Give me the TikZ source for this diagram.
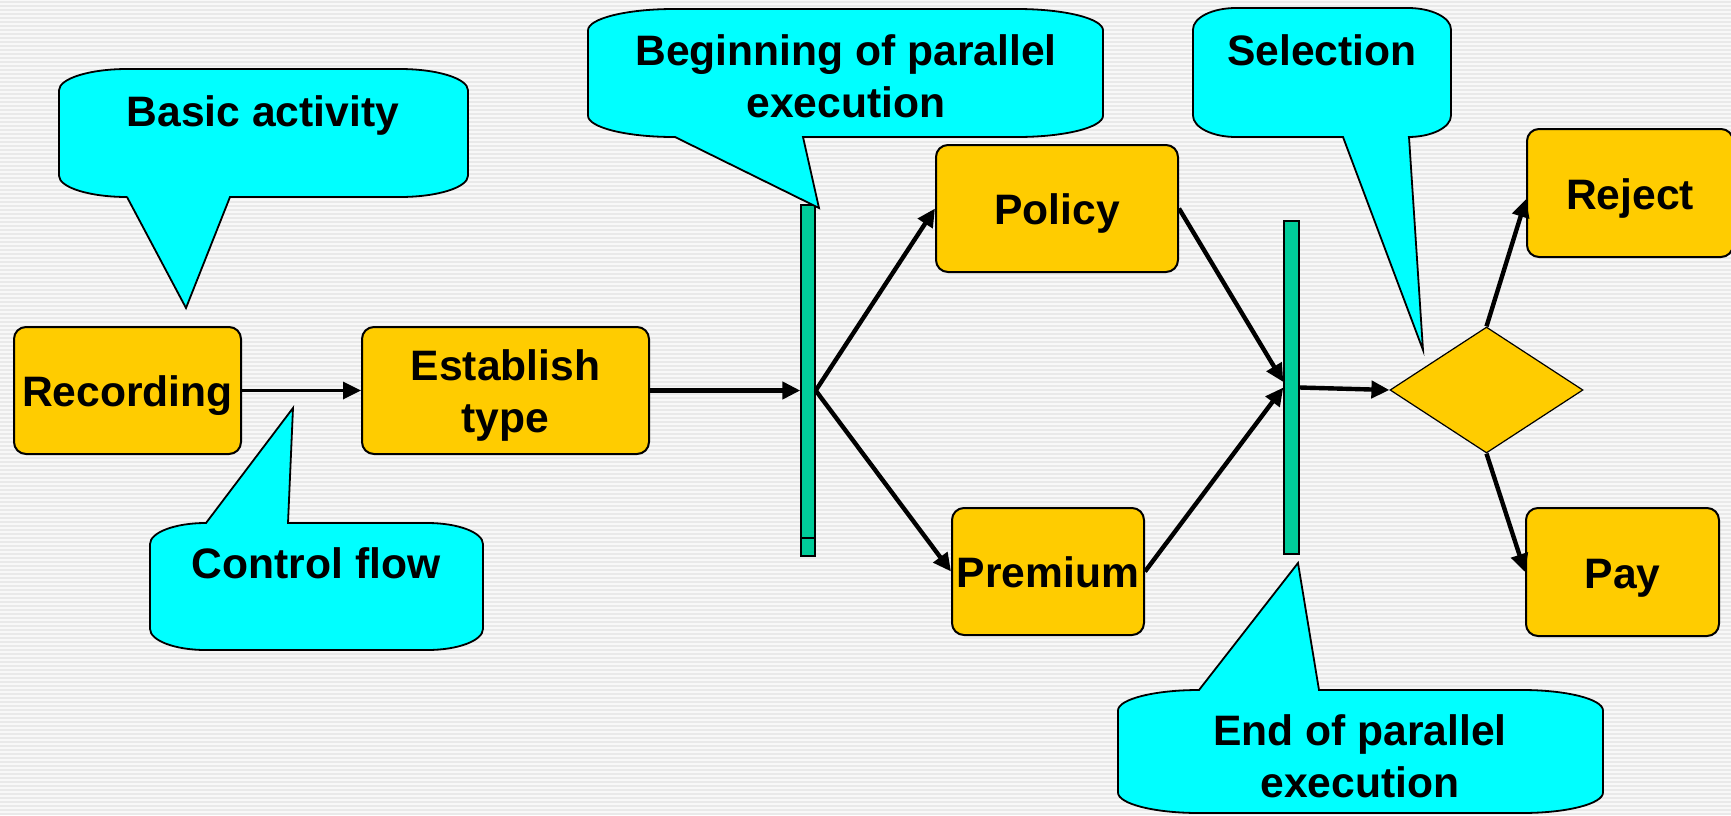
\documentclass[tikz,border=0pt]{standalone}
\usepackage{fontspec}
\setmainfont{Liberation Sans}
\usetikzlibrary{arrows.meta,shapes.geometric}

\definecolor{actfill}{HTML}{FFCC00}
\definecolor{barfill}{HTML}{00CC99}
\definecolor{notefill}{HTML}{00FFFF}
\definecolor{bgpale}{HTML}{F8F8F8}
\definecolor{bgline}{HTML}{E9E9E9}

\newcommand\lblfont{\fontsize{21.3}{26}\selectfont\bfseries}

% Speech bubble with elliptic corners; the wedge leaves the bottom edge.
% #1 x0  #2 y0  #3 x1  #4 y1  #5 wedge left  #6 wedge right  #7,#8 tip
\newcommand\notedown[8]{%
  \pgfmathsetmacro\nRx{(#3-#1)/6}%
  \pgfmathsetmacro\nRy{(#4-#2)/6}%
  \path[note] (#1,{#2+\nRy})
    .. controls (#1,{#2+0.4477*\nRy}) and ({#1+0.4477*\nRx},#2) .. ({#1+\nRx},#2)
    -- ({#3-\nRx},#2)
    .. controls ({#3-0.4477*\nRx},#2) and (#3,{#2+0.4477*\nRy}) .. (#3,{#2+\nRy})
    -- (#3,{#4-\nRy})
    .. controls (#3,{#4-0.4477*\nRy}) and ({#3-0.4477*\nRx},#4) .. ({#3-\nRx},#4)
    -- (#6,#4) -- (#7,#8) -- (#5,#4) -- ({#1+\nRx},#4)
    .. controls ({#1+0.4477*\nRx},#4) and (#1,{#4-0.4477*\nRy}) .. (#1,{#4-\nRy})
    -- cycle;}

% Same bubble, with the wedge leaving the top edge.
\newcommand\noteup[8]{%
  \pgfmathsetmacro\nRx{(#3-#1)/6}%
  \pgfmathsetmacro\nRy{(#4-#2)/6}%
  \path[note] (#1,{#2+\nRy})
    .. controls (#1,{#2+0.4477*\nRy}) and ({#1+0.4477*\nRx},#2) .. ({#1+\nRx},#2)
    -- (#5,#2) -- (#7,#8) -- (#6,#2)
    -- ({#3-\nRx},#2)
    .. controls ({#3-0.4477*\nRx},#2) and (#3,{#2+0.4477*\nRy}) .. (#3,{#2+\nRy})
    -- (#3,{#4-\nRy})
    .. controls (#3,{#4-0.4477*\nRy}) and ({#3-0.4477*\nRx},#4) .. ({#3-\nRx},#4)
    -- ({#1+\nRx},#4)
    .. controls ({#1+0.4477*\nRx},#4) and (#1,{#4-0.4477*\nRy}) .. (#1,{#4-\nRy})
    -- cycle;}

\begin{document}
\begin{tikzpicture}[x=0.5pt,y=-0.5pt,
  act/.style={draw, line width=1pt, fill=actfill, rounded corners=6pt,
    inner sep=0pt, font=\lblfont, align=center,
    text height=19.5pt, text depth=3.5pt},
  bar/.style={draw, line width=0.7pt, fill=barfill, inner sep=0pt},
  flow/.style={line width=2.2pt, -{Triangle[length=9pt,width=8.5pt]}},
  note/.style={draw, line width=0.9pt, fill=notefill},
  notetext/.style={font=\lblfont, align=center, anchor=base, inner sep=0pt}]

\useasboundingbox (0,0) rectangle (1731,815);

% striped backdrop
\fill[bgpale] (0,0) rectangle (1731,815);
\foreach \k in {0,...,203}
  \fill[bgline] (0,{4*\k+1}) rectangle (1731,{4*\k+2.5});

% activities
\node[act, minimum width=113.5pt, minimum height=63.5pt] (rec) at (127.5,390.5) {Recording};
\node[act, minimum width=143.5pt, minimum height=63.5pt, text height=45.5pt] (est) at (505.5,390.5) {Establish\\type};
\node[act, minimum width=121pt, minimum height=63.5pt] (pol) at (1057,208.5) {Policy};
\node[act, minimum width=96pt, minimum height=63.5pt] (pre) at (1048,571.5) {Premium};
\node[act, minimum width=103pt, minimum height=64pt] (rej) at (1630,193) {Reject};
\node[act, minimum width=96.5pt, minimum height=64pt] (pay) at (1622.5,572) {Pay};

% fork and join bars
\node[bar, minimum width=7pt, minimum height=175.5pt] (fork) at (808,380.5) {};
\draw[line width=0.7pt] (fork.west |- 0,538) -- (fork.east |- 0,538);
\node[bar, minimum width=7.5pt, minimum height=166.5pt] (join) at (1291.5,387.5) {};

% decision
\node[diamond, draw, line width=0.6pt, fill=actfill, inner sep=0pt,
      minimum width=96.5pt, minimum height=63pt] (dec) at (1486.5,390) {};

% control flow
\draw[flow, line width=1.7pt] (rec.east) -- (est.west);
\draw[flow] (est.east) -- (fork.west |- est.east);
\draw[flow] (fork.east |- est.east) -- (pol.west);
\draw[flow] (fork.east |- est.east) -- (pre.west);
\draw[flow] (pol.east) -- ([yshift=2.75pt]join.west);
\draw[flow] (pre.east) -- (join.west);
\draw[flow] (join.east) -- (dec.west);
\draw[flow] (dec.north) -- ([yshift=-3pt]rej.west);
\draw[flow] (dec.south) -- (pay.west);

% annotations (multi-line labels sit on the baseline of their last line)
\notedown{59}{69}{468}{197}{127}{230}{186}{308}
\node[notetext] (nbasic) at (263,126) {Basic activity};

\notedown{588}{9}{1103}{137}{675}{803}{819}{208}
\node[notetext] (nbegin) at (846,117) {Beginning of parallel\\execution};

\notedown{1193}{8}{1451}{137}{1343}{1409}{1423}{350}
\node[notetext] (nsel) at (1322,65) {Selection};

\noteup{150}{523}{483}{650}{206}{288}{293}{408}
\node[notetext] (nflow) at (316,578) {Control flow};

\noteup{1118}{690}{1603}{813}{1199}{1319}{1298}{563}
\node[notetext] (nend) at (1360,797) {End of parallel\\execution};

\end{tikzpicture}
\end{document}
